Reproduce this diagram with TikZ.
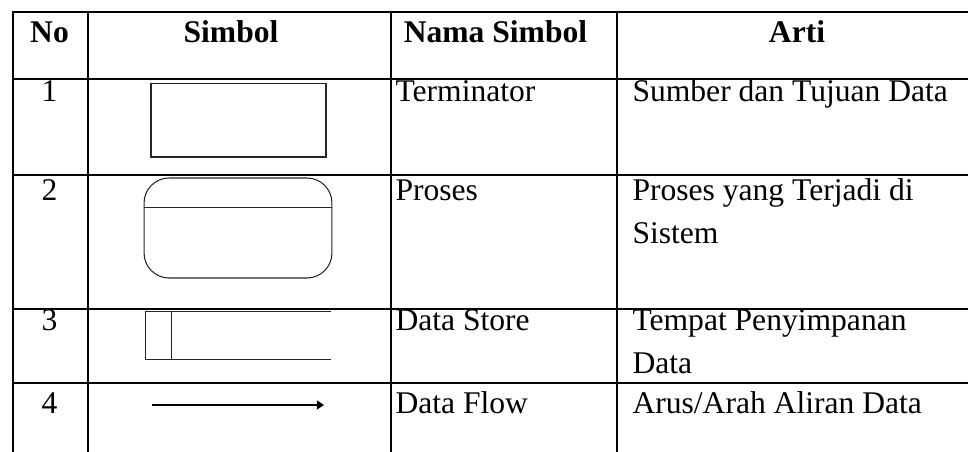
\documentclass[tikz,border=0pt,12pt]{standalone}
\usepackage{fontspec}
\setmainfont{Liberation Serif}
\usetikzlibrary{calc,positioning}
\usetikzlibrary{arrows.meta}
\tikzset{>={Triangle[width=3.4pt,length=2.7pt]}}

\begin{document}
\begin{tikzpicture}[x=0.38pt, y=-0.38pt]
          \tikzstyle{grid} = [line width=0.95pt, line cap=rect]
          \tikzstyle{sym} = [draw=black!85, line width=0.4pt, inner sep=0pt]
          \tikzstyle{hnode} = [font=\fontsize{12pt}{14.4pt}\selectfont\bfseries, inner sep=0pt, anchor=base]
          \tikzstyle{num} = [font=\fontsize{12pt}{14.4pt}\selectfont, inner sep=0pt, anchor=base]
          \tikzstyle{tnode} = [inner sep=0pt, anchor=base west, align=left, font=\fontsize{12pt}{16.3pt}\selectfont]
          \useasboundingbox (0,0) rectangle (968,452);

          % table rules
          \foreach \y in {12,79,175,309,383}
            \draw[grid] (13,\y) -- (968,\y);
          \foreach \x in {13,88,391,617}
            \draw[grid] (\x,12) -- (\x,452);

          % header
          \node[hnode] (no) at (49.5,43) {No};
          \node[hnode] (simbol) at (231,43) {Simbol};
          \node[hnode] (nama) at (495.5,43) {Nama Simbol};
          \node[hnode] (arti) at (797,43) {Arti};

          % row numbers
          \node[num] (n1) at (49.5,101) {1};
          \node[num] (n2) at (49.5,200) {2};
          \node[num] (n3) at (49.5,330) {3};
          \node[num] (n4) at (49.5,413) {4};

          % names and meanings (two-line cells sit on their last baseline)
          \node[tnode] (t1) at (395,101) {Terminator};
          \node[tnode] (a1) at (632,101) {Sumber dan Tujuan Data};
          \node[tnode] (t2) at (395,200) {Proses};
          \node[tnode] (a2) at (632,243) {Proses yang Terjadi di\\Sistem};
          \node[tnode] (t3) at (395,330) {Data Store};
          \node[tnode] (a3) at (632,373) {Tempat Penyimpanan\\Data};
          \node[tnode] (t4) at (395,413) {Data Flow};
          \node[tnode] (a4) at (632,413) {Arus/Arah Aliran Data};

          % symbols
          \node[sym, minimum width=66.5pt, minimum height=28.1pt] (term) at (238.5,120) {};
          \node[sym, rounded corners=9.5pt, minimum width=71.4pt, minimum height=38pt] (proc) at (238,228) {};
          \draw[sym] ([yshift=-11.4pt]proc.north west) -- ([yshift=-11.4pt]proc.north east);
          \node[minimum width=69.9pt, minimum height=17.9pt, inner sep=0pt] (store) at (238,335.5) {};
          \draw[sym] (store.north east) -- (store.north west) -- (store.south west) -- (store.south east);
          \draw[sym] ([xshift=9.9pt]store.north west) -- ([xshift=9.9pt]store.south west);
          \coordinate (fs) at (152,405);
          \coordinate (fe) at (324,405);
          \draw[->, line width=0.5pt] (fs) -- (fe);
        \end{tikzpicture}
\end{document}
